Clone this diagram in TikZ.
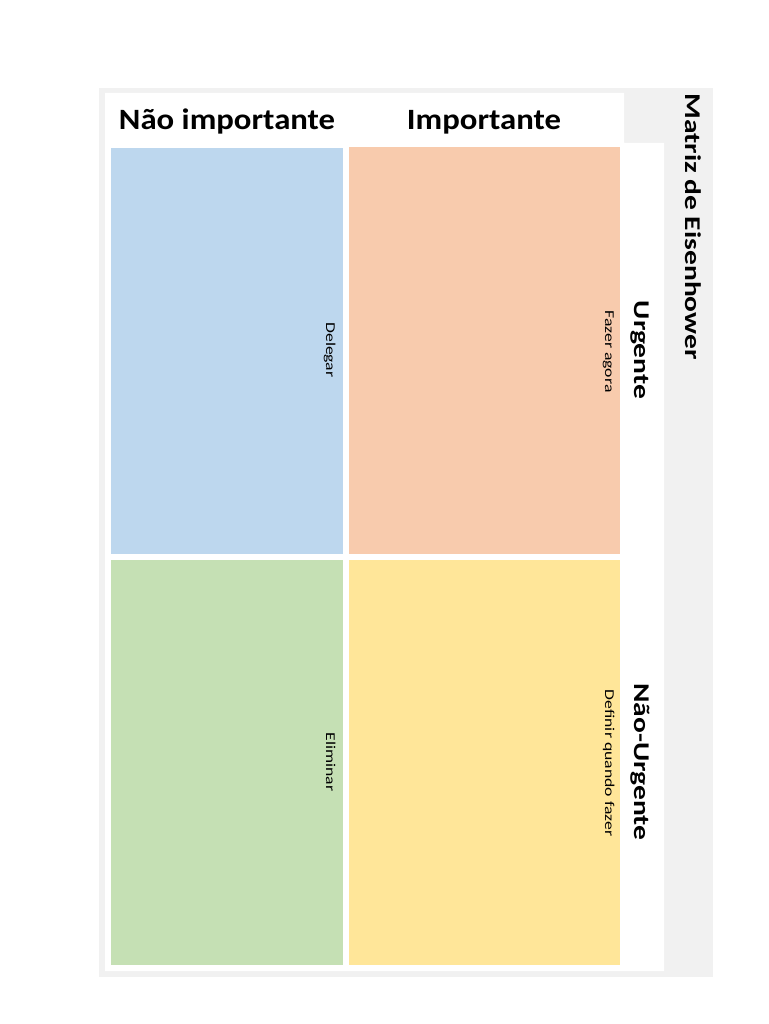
\documentclass[tikz,border=0pt]{standalone}
\usepackage{fontspec}
\setmainfont{Carlito}
\definecolor{bggray}{HTML}{F1F1F1}
\definecolor{qblue}{HTML}{BDD7EE}
\definecolor{qorange}{HTML}{F8CBAD}
\definecolor{qgreen}{HTML}{C5E0B4}
\definecolor{qyellow}{HTML}{FFE699}
\begin{document}
\begin{tikzpicture}[x=1pt, y=-1pt, line join=round,
  head/.style={font=\bfseries\fontsize{29.5}{30}\selectfont, inner sep=0pt, anchor=base, xscale=1.11},
  side/.style={font=\bfseries\fontsize{22.5}{23}\selectfont, inner sep=0pt, anchor=base, rotate=-90, xscale=1.31},
  task/.style={font=\fontsize{13.5}{14}\selectfont, inner sep=0pt, anchor=base, rotate=-90, xscale=1.31}]
\useasboundingbox (0,0) rectangle (768,1024);
\fill[bggray] (99,88) rectangle (713,977);
\fill[white] (105,93) rectangle (624,146) (105,143) rectangle (664,971);
\fill[qblue] (111,148) rectangle (343,554);
\fill[qorange] (349,147) rectangle (620,554);
\fill[qgreen] (111,560) rectangle (343,965);
\fill[qyellow] (349,560) rectangle (620,965);
\node[head] (notimp) at (227,129.5) {Não importante};
\node[head] (imp) at (484,129.5) {Importante};
\node[side] (title) at (685,226.5) {Matriz de Eisenhower};
\node[side] (urg) at (634,350) {Urgente};
\node[side] (nurg) at (634,762) {Não-Urgente};
\node[task] (now) at (605,351.5) {Fazer agora};
\node[task] (plan) at (605,763) {Definir quando fazer};
\node[task] (deleg) at (326,350) {Delegar};
\node[task] (elim) at (326,762) {Eliminar};
\end{tikzpicture}
\end{document}
